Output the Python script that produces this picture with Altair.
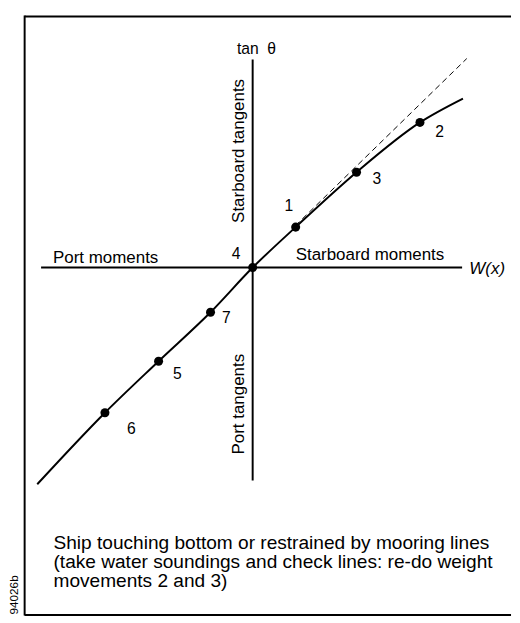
import altair as alt
import pandas as pd

# ---- data (chart units: W(x) heeling moment vs tan theta) ----
point_labels = ["6", "5", "7", "4", "1", "3", "2"]
point_w = [-3.47, -2.21, -0.99, 0.0, 1.01, 2.44, 3.93]
point_tan = [-3.41, -2.20, -1.05, 0.0, 0.95, 2.24, 3.41]

# label anchors for the point numbers
num_w = [-2.85, -1.77, -0.62, -0.39, 0.85, 2.92, 4.39]
num_tan = [-3.90, -2.61, -1.30, 0.20, 1.32, 1.97, 3.07]

curve_w = [-5.06, -3.47, -2.21, -0.99, 0.0, 1.01, 2.44, 3.93, 4.94]
curve_tan = [-5.09, -3.41, -2.20, -1.05, 0.0, 0.95, 2.24, 3.41, 3.97]

trend_w = [1.0, 5.03]
trend_tan = [0.98, 4.91]

haxis_w = [-4.97, 4.92]
vaxis_tan = [-5.0, 4.89]

axis_texts = ["Port moments", "Starboard moments"]
axis_text_w = [-4.69, 1.01]
axis_text_tan = [0.115, 0.17]

caption_lines = [
    "Ship touching bottom or restrained by mooring lines",
    "(take water soundings and check lines: re-do weight",
    "movements 2 and 3)",
]

# ---- layout ----
W, H = 512, 615
U = 43.5           # px per unit
OX, OY = 248, 257.5  # origin in plot px
xdom = [-OX / U, (W - OX) / U]
ydom = [-(H - OY) / U, OY / U]
xs = alt.Scale(domain=xdom, nice=False, zero=False)
ys = alt.Scale(domain=ydom, nice=False, zero=False)
FONT = "Liberation Sans"

def X(f="w"):
    return alt.X(f"{f}:Q", scale=xs, axis=None)

def Y(f="t"):
    return alt.Y(f"{f}:Q", scale=ys, axis=None)

pts = pd.DataFrame({"w": point_w, "t": point_tan, "lab": point_labels})
nums = pd.DataFrame({"w": num_w, "t": num_tan, "lab": point_labels})
curve = pd.DataFrame({"w": curve_w, "t": curve_tan, "o": range(len(curve_w))})
trend = pd.DataFrame({"w": trend_w, "t": trend_tan})
hax = pd.DataFrame({"w": [haxis_w[0]], "w2": [haxis_w[1]], "t": [0.0]})
vax = pd.DataFrame({"w": [0.0], "t": [vaxis_tan[0]], "t2": [vaxis_tan[1]]})
atext = pd.DataFrame({"w": axis_text_w, "t": axis_text_tan, "lab": axis_texts})

frame_left = alt.Chart(pd.DataFrame({"a": [0]})).mark_rule(color="black", strokeWidth=2).encode(
    x=alt.value(15), y=alt.value(0), y2=alt.value(613))
frame_top = alt.Chart(pd.DataFrame({"a": [0]})).mark_rule(color="black", strokeWidth=2).encode(
    x=alt.value(15), x2=alt.value(W), y=alt.value(1))
frame_bottom = alt.Chart(pd.DataFrame({"a": [0]})).mark_rule(color="black", strokeWidth=2).encode(
    x=alt.value(15), x2=alt.value(W), y=alt.value(612.5))

h_rule = alt.Chart(hax).mark_rule(color="black", strokeWidth=2).encode(
    x=X(), x2="w2:Q", y=Y())
v_rule = alt.Chart(vax).mark_rule(color="black", strokeWidth=2).encode(
    x=X(), y=Y(), y2="t2:Q")

trend_line = alt.Chart(trend).mark_line(color="black", strokeWidth=1, strokeDash=[6, 4]).encode(
    x=X(), y=Y())
curve_line = alt.Chart(curve).mark_line(color="black", strokeWidth=2, interpolate="monotone").encode(
    x=X(), y=Y(), order="o:Q")
dots = alt.Chart(pts).mark_point(filled=True, color="black", size=85, opacity=1).encode(
    x=X(), y=Y())
num_text = alt.Chart(nums).mark_text(font=FONT, fontSize=16, align="center", baseline="alphabetic",
                                     color="black").encode(x=X(), y=Y(), text="lab:N")
ax_text = alt.Chart(atext).mark_text(font=FONT, fontSize=17.3, align="left", baseline="alphabetic",
                                     color="black").encode(x=X(), y=Y(), text="lab:N")
wx_text = alt.Chart(pd.DataFrame({"w": [5.09], "t": [-0.14], "lab": ["W(x)"]})).mark_text(
    font=FONT, fontSize=17.3, fontStyle="italic", align="left", baseline="alphabetic", color="black"
).encode(x=X(), y=Y(), text="lab:N")
tan_text = alt.Chart(pd.DataFrame({"w": [0.09], "t": [5.02], "lab": ["tan\u00a0\u00a0θ"]})).mark_text(
    font=FONT, fontSize=16, align="center", baseline="alphabetic", color="black"
).encode(x=X(), y=Y(), text="lab:N")
rot_text = alt.Chart(pd.DataFrame({"w": [-0.33, -0.31], "t": [2.74, -3.21],
                                   "lab": ["Starboard tangents", "Port tangents"]})).mark_text(
    font=FONT, fontSize=17.3, angle=270, align="center", baseline="middle", color="black"
).encode(x=X(), y=Y(), text="lab:N")

caption = alt.Chart(pd.DataFrame({"a": [0]})).mark_text(
    font=FONT, fontSize=19.5, lineHeight=19.5, align="left", baseline="alphabetic", color="black",
    text=caption_lines
).encode(x=alt.value(44.5), y=alt.value(545))

code = alt.Chart(pd.DataFrame({"a": [0]})).mark_text(
    font=FONT, fontSize=12, angle=270, align="center", baseline="middle", color="black", text="94026b"
).encode(x=alt.value(4), y=alt.value(592))

chart = alt.layer(
    frame_left, frame_top, frame_bottom, h_rule, v_rule, trend_line, curve_line, dots,
    num_text, ax_text, wx_text, tan_text, rot_text, caption, code
).properties(width=W, height=H, padding=0).configure_view(stroke=None)

chart.save("out.html", embed_options={"renderer": "svg", "actions": False})
